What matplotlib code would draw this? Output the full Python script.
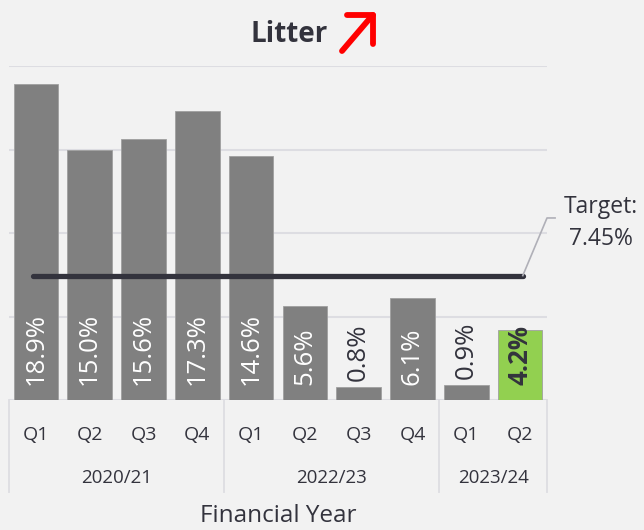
import matplotlib
matplotlib.use("Agg")
import matplotlib.pyplot as plt
from matplotlib.lines import Line2D

# quarterly litter scores by financial year
quarters = ["Q1", "Q2", "Q3", "Q4", "Q1", "Q2", "Q3", "Q4", "Q1", "Q2"]
years = ["2020/21", "2022/23", "2023/24"]
year_sizes = [4, 4, 2]
values = [18.9, 15.0, 15.6, 17.3, 14.6, 5.6, 0.8, 6.1, 0.9, 4.2]
target = 7.45

BG = "#f2f2f2"
GREY = "#808080"
GREEN = "#92d050"
DARK = "#33333d"
GRID = "#dddde2"

plt.rcParams["font.family"] = ["Open Sans", "DejaVu Sans"]

fig = plt.figure(figsize=(6.44, 5.30), dpi=100, facecolor=BG)
ax = fig.add_axes([9 / 644, 1 - 400 / 530, 538 / 644, 334 / 530], facecolor=BG)

x = list(range(len(values)))
colors = [GREY] * (len(values) - 1) + [GREEN]
ax.bar(x, values, width=0.83, color=colors, edgecolor="#a0a0a0", linewidth=0.6, zorder=2)

for xi, v in zip(x, values):
    last = xi == len(values) - 1
    inside = v >= 3
    if inside:
        ax.annotate(f"{v:.1f}%", (xi, 0), xytext=(0, 11), textcoords="offset points",
                    rotation=90, ha="center", va="bottom", fontsize=18.5,
                    color=DARK if last else "white",
                    fontweight="bold" if last else "normal", zorder=3)
    else:
        ax.annotate(f"{v:.1f}%", (xi, v), xytext=(0, 4), textcoords="offset points",
                    rotation=90, ha="center", va="bottom", fontsize=18.5,
                    color=DARK, zorder=3)

# target line across all quarters
ax.plot([x[0] - 0.05, x[-1] + 0.05], [target, target], color=DARK, lw=3.8,
        solid_capstyle="round", zorder=4)
ax.plot([x[-1] + 0.05, 9.5, 9.65], [target, 10.9, 10.9], color="#b0b0b8", lw=1.2,
        clip_on=False, zorder=4)
ax.text(10.5, 10.6, f"Target:\n{target:.2f}%", ha="center", va="center",
        multialignment="center", fontsize=16.5, color=DARK, linespacing=1.45,
        clip_on=False)

ax.set_xlim(-0.5, len(values) - 0.5)
ax.set_ylim(0, 20)
ax.set_yticks([0, 5, 10, 15, 20])
ax.grid(axis="y", color=GRID, lw=1.5, zorder=0)
ax.tick_params(left=False, bottom=False, labelleft=False, labelbottom=False)
for s in ax.spines.values():
    s.set_visible(False)

# two-level category axis
tr = ax.get_xaxis_transform()
for xi, q in zip(x, quarters):
    ax.text(xi, -0.105, q, transform=tr, ha="center", va="center", fontsize=14,
            color=DARK, clip_on=False)
start = 0
bounds = [-0.5]
for name, n in zip(years, year_sizes):
    ax.text(start + (n - 1) / 2, -0.235, name, transform=tr, ha="center", va="center",
            fontsize=13.5, color=DARK, clip_on=False)
    start += n
    bounds.append(start - 0.5)
for b in bounds:
    ax.add_line(Line2D([b, b], [0, -0.275], transform=tr, color=GRID, lw=1.3,
                       clip_on=False))

fig.text(278 / 644, 1 - 516 / 530, "Financial Year", ha="center", va="center",
         fontsize=17.5, color=DARK)

# title with upward trend arrow
fig.text(289 / 644, 1 - 34 / 530, "Litter", ha="center", va="center", fontsize=20,
         fontweight="bold", color=DARK)
for xs, ys in [([342, 371], [51, 17]), ([347, 373], [15, 15]), ([373, 373], [15, 44])]:
    fig.add_artist(Line2D([v / 644 for v in xs], [1 - v / 530 for v in ys],
                          color="#ff0000", lw=4.2, solid_capstyle="round"))

fig.savefig("out.png", dpi=100, facecolor=BG)
